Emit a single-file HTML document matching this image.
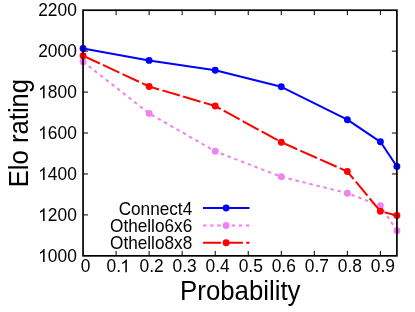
<!DOCTYPE html>
<html><head><meta charset="utf-8"><title>Elo rating vs Probability</title>
<style>html,body{margin:0;padding:0;background:#fff;overflow:hidden}body{width:415px;height:312px}</style></head>
<body>
<svg width="415" height="312" viewBox="0 0 415 312" style="display:block;will-change:transform;font-family:'Liberation Sans',sans-serif">
<rect width="415" height="312" fill="#fff"/>
<path d="M116.09 255.85 V250.85 M116.09 10.2 V15.2 M149.12 255.85 V250.85 M149.12 10.2 V15.2 M182.16 255.85 V250.85 M182.16 10.2 V15.2 M215.20 255.85 V250.85 M215.20 10.2 V15.2 M248.23 255.85 V250.85 M248.23 10.2 V15.2 M281.27 255.85 V250.85 M281.27 10.2 V15.2 M314.31 255.85 V250.85 M314.31 10.2 V15.2 M347.34 255.85 V250.85 M347.34 10.2 V15.2 M380.38 255.85 V250.85 M380.38 10.2 V15.2 M83.05 214.91 H88.05 M396.9 214.91 H391.9 M83.05 173.97 H88.05 M396.9 173.97 H391.9 M83.05 133.02 H88.05 M396.9 133.02 H391.9 M83.05 92.08 H88.05 M396.9 92.08 H391.9 M83.05 51.14 H88.05 M396.9 51.14 H391.9" stroke="#000" stroke-width="1" fill="none"/>
<path transform="translate(38.19,261.90) scale(0.008496,-0.009091)" d="M755 0H575V1098Q510 1038 404.5 979T215 890V1057Q366 1124 479 1221T639 1409H755Z"/><text transform="translate(47.87,261.90) scale(1,1.07)" font-size="17.4">000</text>
<path transform="translate(38.19,220.96) scale(0.008496,-0.009091)" d="M755 0H575V1098Q510 1038 404.5 979T215 890V1057Q366 1124 479 1221T639 1409H755Z"/><text transform="translate(47.87,220.96) scale(1,1.07)" font-size="17.4">200</text>
<path transform="translate(38.19,180.02) scale(0.008496,-0.009091)" d="M755 0H575V1098Q510 1038 404.5 979T215 890V1057Q366 1124 479 1221T639 1409H755Z"/><text transform="translate(47.87,180.02) scale(1,1.07)" font-size="17.4">400</text>
<path transform="translate(38.19,139.07) scale(0.008496,-0.009091)" d="M755 0H575V1098Q510 1038 404.5 979T215 890V1057Q366 1124 479 1221T639 1409H755Z"/><text transform="translate(47.87,139.07) scale(1,1.07)" font-size="17.4">600</text>
<path transform="translate(38.19,98.13) scale(0.008496,-0.009091)" d="M755 0H575V1098Q510 1038 404.5 979T215 890V1057Q366 1124 479 1221T639 1409H755Z"/><text transform="translate(47.87,98.13) scale(1,1.07)" font-size="17.4">800</text>
<text transform="translate(38.19,57.19) scale(1,1.07)" font-size="17.4">2000</text>
<text transform="translate(38.19,16.25) scale(1,1.07)" font-size="17.4">2200</text>
<text transform="translate(80.71,272.20) scale(1,1.07)" font-size="17.4">0</text>
<text transform="translate(106.49,272.20) scale(1,1.07)" font-size="17.4">0.</text><path transform="translate(120.45,272.20) scale(0.008496,-0.009091)" d="M755 0H575V1098Q510 1038 404.5 979T215 890V1057Q366 1124 479 1221T639 1409H755Z"/>
<text transform="translate(139.53,272.20) scale(1,1.07)" font-size="17.4">0.2</text>
<text transform="translate(172.57,272.20) scale(1,1.07)" font-size="17.4">0.3</text>
<text transform="translate(205.60,272.20) scale(1,1.07)" font-size="17.4">0.4</text>
<text transform="translate(238.64,272.20) scale(1,1.07)" font-size="17.4">0.5</text>
<text transform="translate(271.68,272.20) scale(1,1.07)" font-size="17.4">0.6</text>
<text transform="translate(304.71,272.20) scale(1,1.07)" font-size="17.4">0.7</text>
<text transform="translate(337.75,272.20) scale(1,1.07)" font-size="17.4">0.8</text>
<text transform="translate(370.79,272.20) scale(1,1.07)" font-size="17.4">0.9</text>
<text transform="translate(240.3,299.75) scale(1,1.04)" font-size="25.8" text-anchor="middle">Probability</text>
<text transform="translate(27.7,133.1) rotate(-90) scale(1,1.04)" font-size="25.7" text-anchor="middle">Elo rating</text>
<text transform="translate(192.2,214.5) scale(1,1.07)" font-size="17.2" text-anchor="end">Connect4</text>
<text transform="translate(192.2,231.6) scale(1,1.07)" font-size="17.2" text-anchor="end">Othello6x6</text>
<text transform="translate(192.2,248.7) scale(1,1.07)" font-size="17.2" text-anchor="end">Othello8x8</text>
<polyline points="83.05,48.50 149.12,60.40 215.20,70.30 281.27,86.80 347.34,119.70 380.38,141.80 396.90,166.50" fill="none" stroke="#0000ff" stroke-width="2.0" stroke-linejoin="round"/>
<circle cx="83.05" cy="48.50" r="3.45" fill="#0000ff"/><circle cx="149.12" cy="60.40" r="3.45" fill="#0000ff"/><circle cx="215.20" cy="70.30" r="3.45" fill="#0000ff"/><circle cx="281.27" cy="86.80" r="3.45" fill="#0000ff"/><circle cx="347.34" cy="119.70" r="3.45" fill="#0000ff"/><circle cx="380.38" cy="141.80" r="3.45" fill="#0000ff"/><circle cx="396.90" cy="166.50" r="3.45" fill="#0000ff"/>
<path d="M203 208 H249.5" stroke="#0000ff" stroke-width="2.0"/><circle cx="226.1" cy="208" r="3.45" fill="#0000ff"/>
<polyline points="83.05,61.70 149.12,113.40 215.20,151.30 281.27,176.80 347.34,193.20 380.38,205.70 396.90,230.70" fill="none" stroke="#ee82ee" stroke-width="2.0" stroke-dasharray="3.5 3.72" stroke-linejoin="round"/>
<circle cx="83.05" cy="61.70" r="3.45" fill="#ee82ee"/><circle cx="149.12" cy="113.40" r="3.45" fill="#ee82ee"/><circle cx="215.20" cy="151.30" r="3.45" fill="#ee82ee"/><circle cx="281.27" cy="176.80" r="3.45" fill="#ee82ee"/><circle cx="347.34" cy="193.20" r="3.45" fill="#ee82ee"/><circle cx="380.38" cy="205.70" r="3.45" fill="#ee82ee"/><circle cx="396.90" cy="230.70" r="3.45" fill="#ee82ee"/>
<path d="M203 225.55 H249.5" stroke="#ee82ee" stroke-width="2.0" stroke-dasharray="3.5 3.65"/><circle cx="226.1" cy="225.55" r="3.45" fill="#ee82ee"/>
<polyline points="83.05,55.70 149.12,86.50 215.20,106.00 281.27,142.20 347.34,171.50 380.38,211.30 396.90,215.40" fill="none" stroke="#ff0000" stroke-width="2.0" stroke-dasharray="18.2 3.4" stroke-dashoffset="-0.3" stroke-linejoin="round"/>
<circle cx="83.05" cy="55.70" r="3.45" fill="#ff0000"/><circle cx="149.12" cy="86.50" r="3.45" fill="#ff0000"/><circle cx="215.20" cy="106.00" r="3.45" fill="#ff0000"/><circle cx="281.27" cy="142.20" r="3.45" fill="#ff0000"/><circle cx="347.34" cy="171.50" r="3.45" fill="#ff0000"/><circle cx="380.38" cy="211.30" r="3.45" fill="#ff0000"/><circle cx="396.90" cy="215.40" r="3.45" fill="#ff0000"/>
<path d="M203 242.8 H221 M224.3 242.8 H242.9 M246.2 242.8 H249.5" stroke="#ff0000" stroke-width="2.0"/><circle cx="226.1" cy="242.8" r="3.45" fill="#ff0000"/>
<rect x="83.05" y="10.2" width="313.84999999999997" height="245.65" fill="none" stroke="#000" stroke-width="1.7"/>
<path d="M83.05 45.30 V51.70" stroke="#00008c" stroke-width="1.7"/><path d="M83.05 58.50 V64.90" stroke="#2a002a" stroke-width="1.7"/><path d="M83.05 52.50 V58.90" stroke="#960000" stroke-width="1.7"/>
<path d="M396.9 163.30 V169.70" stroke="#000070" stroke-width="1.7"/><path d="M396.9 227.50 V233.90" stroke="#2a002a" stroke-width="1.7"/><path d="M396.9 212.20 V218.60" stroke="#960000" stroke-width="1.7"/>
</svg>
</body></html>
